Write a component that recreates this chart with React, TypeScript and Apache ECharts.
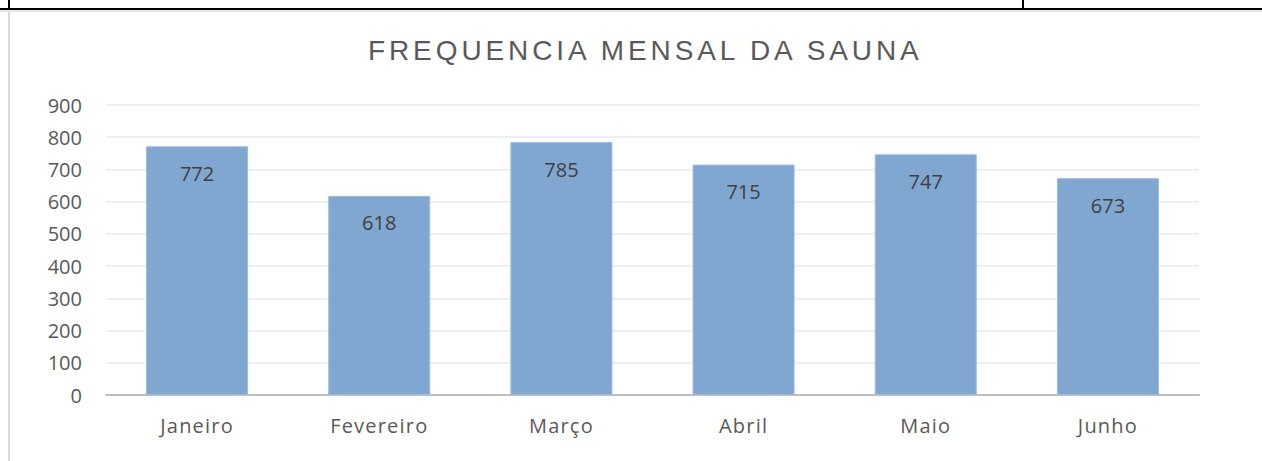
import React, { useEffect, useRef } from "react";
import * as echarts from "echarts";

const categories = ["Janeiro", "Fevereiro", "Março", "Abril", "Maio", "Junho"];
const values = [772, 618, 785, 715, 747, 673];
const titleText = "FREQUENCIA MENSAL DA SAUNA";

const labelFont = "Open Sans";

export default function App() {
  const ref = useRef<HTMLDivElement>(null);
  useEffect(() => {
    const chart = echarts.init(ref.current!, null, { renderer: "svg" });
    chart.setOption({
      animation: false,
      backgroundColor: "#ffffff",
      title: {
        text: titleText,
        left: 363,
        top: 31,
        padding: 5,
        textStyle: {
          fontFamily: "Liberation Sans",
          fontSize: 28,
          fontWeight: "normal",
          color: "#595959",
        },
      },
      grid: { left: 106, right: 63, top: 105, bottom: 66 },
      xAxis: {
        type: "category",
        data: categories,
        axisLine: { lineStyle: { color: "#bfbfbf", width: 2 } },
        axisTick: { show: false },
        axisLabel: { fontFamily: labelFont, fontSize: 20, color: "#595959", margin: 20 },
      },
      yAxis: {
        type: "value",
        min: 0,
        max: 900,
        interval: 100,
        axisLine: { show: false },
        axisTick: { show: false },
        splitLine: { lineStyle: { color: "#efefef", width: 2 } },
        axisLabel: { fontFamily: labelFont, fontSize: 20, color: "#595959", margin: 24 },
      },
      series: [
        {
          type: "bar",
          data: values,
          barWidth: "56%",
          itemStyle: { color: "#80a7d0", borderColor: "#9bbbe0", borderWidth: 1 },
          label: {
            show: true,
            position: "insideTop",
            distance: 17,
            fontFamily: labelFont,
            fontSize: 20,
            color: "#404040",
          },
        },
      ],
      graphic: [
        { type: "rect", shape: { x: 0, y: 8, width: 1262, height: 2 }, style: { fill: "#000" } },
        { type: "rect", shape: { x: 0, y: 10, width: 1262, height: 2 }, style: { fill: "#e6e6e6" } },
        { type: "rect", shape: { x: 8, y: 0, width: 2, height: 10 }, style: { fill: "#000" } },
        { type: "rect", shape: { x: 1022, y: 0, width: 2, height: 10 }, style: { fill: "#000" } },
        { type: "rect", shape: { x: 8, y: 12, width: 2, height: 449 }, style: { fill: "#d9d9d9" } },
      ],
    });
    const applySpacing = () => {
      const texts = ref.current?.querySelectorAll("text") || [];
      texts.forEach((t: any) => {
        const s = t.textContent;
        if (s === titleText) t.style.letterSpacing = "3.9px";
        else if (categories.indexOf(s) >= 0) t.style.letterSpacing = "1.2px";
      });
    };
    applySpacing();
    const raf = requestAnimationFrame(applySpacing);
    return () => {
      cancelAnimationFrame(raf);
      chart.dispose();
    };
  }, []);
  return <div ref={ref} style={{ position: "absolute", left: 0, top: 0, width: 1262, height: 461 }} />;
}
